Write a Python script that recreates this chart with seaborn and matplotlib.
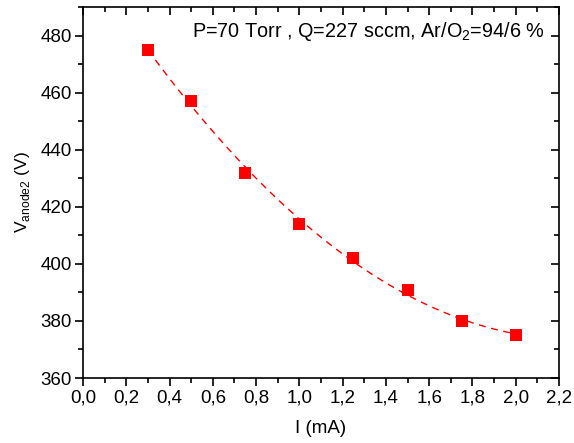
import matplotlib
matplotlib.use("Agg")
import matplotlib.pyplot as plt
import seaborn as sns
import pandas as pd
from matplotlib.ticker import AutoMinorLocator

# data
current_mA = [0.3, 0.5, 0.75, 1.0, 1.25, 1.5, 1.75, 2.0]
voltage_V = [475, 457, 432, 414, 402, 391, 380, 375]
x_tick_values = [0.0, 0.2, 0.4, 0.6, 0.8, 1.0, 1.2, 1.4, 1.6, 1.8, 2.0, 2.2]
x_tick_labels = ["0,0", "0,2", "0,4", "0,6", "0,8", "1,0", "1,2", "1,4", "1,6", "1,8", "2,0", "2,2"]
y_tick_values = [360, 380, 400, 420, 440, 460, 480]

df = pd.DataFrame({"I": current_mA, "V": voltage_V})

sns.set_theme(style="ticks")
plt.rcParams["font.family"] = ["Liberation Sans", "DejaVu Sans"]

FS = 13.5

fig = plt.figure(figsize=(5.74, 4.43), dpi=100)
ax = fig.add_axes([0.1446, 0.1467, 0.8293, 0.8373])

sns.regplot(data=df, x="I", y="V", order=2, ci=None, ax=ax, marker="s",
            scatter_kws=dict(s=75, color="#ff0000", edgecolor="none", alpha=1, zorder=3),
            line_kws=dict(color="#ff0000", lw=1.0, ls=(0, (5, 4)), zorder=2))

ax.set_xlim(0, 2.2)
ax.set_ylim(360, 490)
ax.set_xticks(x_tick_values)
ax.set_xticklabels(x_tick_labels)
ax.set_yticks(y_tick_values)
ax.xaxis.set_minor_locator(AutoMinorLocator(2))
ax.yaxis.set_minor_locator(AutoMinorLocator(2))

ax.tick_params(which="both", direction="out", labelsize=FS, color="black", width=1.2, labelcolor="black", pad=2)
ax.tick_params(which="major", length=6)
ax.tick_params(which="minor", length=3.5)

# mirrored inward ticks on top/right
secx = ax.secondary_xaxis("top")
secx.set_xticks(x_tick_values)
secx.xaxis.set_minor_locator(AutoMinorLocator(2))
secx.tick_params(which="both", direction="in", labeltop=False, width=1.2, color="black")
secx.tick_params(which="major", length=6)
secx.tick_params(which="minor", length=3.5)
secy = ax.secondary_yaxis("right")
secy.set_yticks(y_tick_values)
secy.yaxis.set_minor_locator(AutoMinorLocator(2))
secy.tick_params(which="both", direction="in", labelright=False, width=1.2, color="black")
secy.tick_params(which="major", length=6)
secy.tick_params(which="minor", length=3.5)
for a in (secx, secy):
    for s in a.spines.values():
        s.set_visible(False)

for s in ax.spines.values():
    s.set_color("black")
    s.set_linewidth(1.2)
    s.set_visible(True)

ax.set_xlabel("I (mA)", fontsize=FS, color="black", labelpad=10)
ax.set_ylabel(r"V$_{\mathregular{anode2}}$ (V)", fontsize=12.5, color="black", labelpad=6)
ax.text(0.97, 0.935, r"P=70 Torr , Q=227 sccm, Ar/O$_{\mathregular{2}}$=94/6 %",
        transform=ax.transAxes, ha="right", va="center", fontsize=14.3, color="black")

fig.savefig("out.png", dpi=100, facecolor="white")
